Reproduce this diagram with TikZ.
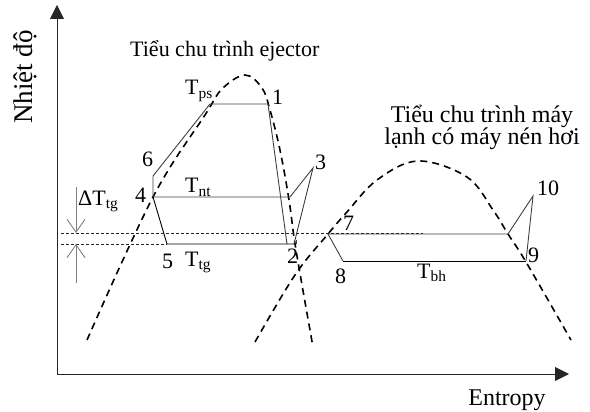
\documentclass[tikz,border=0pt]{standalone}
\usepackage{fontspec}
\setmainfont{Liberation Serif}
\usetikzlibrary{arrows.meta, positioning}

\begin{document}
\begin{tikzpicture}[x=1pt, y=-1pt,
    axis/.style={-{Triangle[length=14pt,width=14pt]}, line width=1pt, black!85},
    dome/.style={dash pattern=on 7pt off 5pt, line width=1.6pt},
    cycleline/.style={line width=0.9pt, black!75},
    guide/.style={dash pattern=on 3pt off 2pt, line width=0.8pt, black!85},
    delta/.style={-{Straight Barb[length=13pt,width=18pt]}, line width=0.9pt, gray},
    lbl/.style={font=\fontsize{22}{24}\selectfont, inner sep=0pt, anchor=base west},
    title/.style={font=\fontsize{24}{26}\selectfont, inner sep=0pt, anchor=base}
  ]
  \useasboundingbox (0,0) rectangle (590,412);

  % Axes
  \coordinate (O) at (57,374);
  \coordinate (ytop) at (57,5);
  \coordinate (xend) at (569,374);
  \draw[axis] (O) -- (ytop);
  \draw[axis] (O) -- (xend);
  \node[title, rotate=90, anchor=center, font=\fontsize{27}{29}\selectfont] (ylab) at (25,77) {Nhiệt độ};
  \node[title] (xlab) at (507,405) {Entropy};

  % Saturation domes
  \draw[dome] plot[smooth, tension=0.6] coordinates {(87,340) (153,197) (205,115) (222,89)
    (245,75) (262,88) (270,110) (280,150) (289,200) (296,250) (313,347)};
  \draw[dome] plot[smooth, tension=0.6] coordinates {(255,342) (295,275) (328,234) (347,212)
    (377,180) (418,161) (467,177) (493,210) (508,234) (526,262) (571,340)};

  % Ejector sub-cycle points
  \coordinate (p1) at (268,104);
  \coordinate (pps) at (210,104);
  \coordinate (p6) at (153,176);
  \coordinate (p4) at (153,197);
  \coordinate (pnt) at (290,197);
  \coordinate (p3) at (313,168);
  \coordinate (p3b) at (294,244);
  \coordinate (p2) at (287,244);
  \coordinate (ptg) at (296,244);
  \coordinate (p5) at (167,244);

  % Compressor sub-cycle points
  \coordinate (p7) at (328,234);
  \coordinate (p7b) at (508,234);
  \coordinate (p10) at (533,196);
  \coordinate (p9) at (526,261);
  \coordinate (p8) at (343,261);

  % Cycle lines
  \draw[cycleline] (p1) -- (pps) -- (p6) -- (p4) -- (pnt) -- (p3) -- (p3b);
  \draw[cycleline] (p1) -- (p2);
  \draw[cycleline, black] (p4) -- (p5) -- (ptg);
  \draw[cycleline] (ptg) -- ++(0,-4);
  \draw[cycleline] (p8) -- (p7) -- (p7b) -- (p10) -- (p9);
  \draw[cycleline, black] (p8) -- (p9);

  % Temperature difference
  \coordinate (gA) at (61,233);
  \coordinate (gAend) at (423,233);
  \coordinate (gB) at (61,244);
  \draw[guide] (gA) -- (gAend);
  \draw[guide] (gB) -- (p5);
  \coordinate (dTtop) at (76,187);
  \coordinate (dTa) at (76,233);
  \coordinate (dTbot) at (76,283);
  \coordinate (dTb) at (76,244);
  \draw[delta] (dTtop) -- (dTa);
  \draw[delta] (dTbot) -- (dTb);

  % Labels
  \node[title, anchor=base west, font=\fontsize{22}{24}\selectfont] (t1) at (130,57) {Tiểu chu trình ejector};
  \node[title] (t2a) at (482,123) {Tiểu chu trình máy};
  \node[title] (t2b) at (482,145) {lạnh có máy nén hơi};
  \node[lbl] (lps) at (185,95) {T\textsubscript{ps}};
  \node[lbl] (l1) at (272,105) {1};
  \node[lbl] (l6) at (142,167) {6};
  \node[lbl] (l4) at (135,202) {4};
  \node[lbl] (lnt) at (185,193) {T\textsubscript{nt}};
  \node[lbl] (ldT) at (78,205) {ΔT\textsubscript{tg}};
  \node[lbl] (l5) at (162,268) {5};
  \node[lbl] (ltg) at (185,266) {T\textsubscript{tg}};
  \node[lbl] (l2) at (287,263) {2};
  \node[lbl] (l3) at (315,170) {3};
  \node[lbl] (l7) at (343,230) {7};
  \node[lbl] (l8) at (335,283) {8};
  \node[lbl] (lbh) at (417,278) {T\textsubscript{bh}};
  \node[lbl] (l9) at (528,262) {9};
  \node[lbl] (l10) at (537,196) {10};
\end{tikzpicture}
\end{document}
